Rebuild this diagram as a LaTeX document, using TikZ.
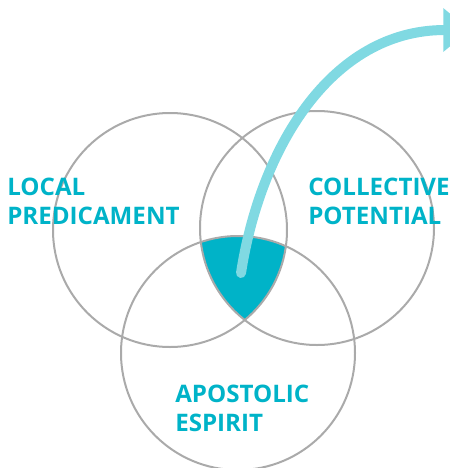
\documentclass[tikz,border=0pt]{standalone}
\usepackage{fontspec}
\newfontfamily\vennfont{Open Sans}
\usepackage{tikz}
\usetikzlibrary{arrows.meta}
\definecolor{vennteal}{HTML}{00B3C8}
\definecolor{venngray}{HTML}{AAAAAA}
\definecolor{arrowteal}{HTML}{80D9E2}
\tikzstyle{circ} = [circle, minimum size=175.5pt, inner sep=0pt, draw=venngray, line width=1.5pt]
\tikzstyle{lbl} = [anchor=base west, inner sep=0pt, align=left, text=vennteal, font=\vennfont\bfseries\fontsize{18.1}{21.75}\selectfont]
\tikzstyle{arrow} = [line width=7.5pt, draw=arrowteal, line cap=round, -{Triangle[width=31.5pt,length=20pt]}]

\begin{document}
\begin{tikzpicture}[x=0.75pt,y=-0.75pt]
		\useasboundingbox (0,0) rectangle (450,468);
		% common part of the three circles
		\begin{scope}
			\clip (170,230) circle[radius=117];
			\clip (317,228) circle[radius=117];
			\fill[vennteal] (238,353) circle[radius=117];
		\end{scope}
		\node (local) [circ] at (170,230) {};
		\node (collective) [circ] at (317,228) {};
		\node (apostolic) [circ] at (238,353) {};
		\node (localtext) [lbl] at (7,224) {LOCAL\\PREDICAMENT};
		\node (collectivetext) [lbl] at (308,224) {COLLECTIVE\\POTENTIAL};
		\node (apostolictext) [lbl] at (175,431) {APOSTOLIC\\ESPIRIT};
		\coordinate (start) at (241,273);
		\coordinate (end) at (470,30);
		\draw [arrow] (start) .. controls (260,150) and (330,30) .. (end);
	\end{tikzpicture}
\end{document}
